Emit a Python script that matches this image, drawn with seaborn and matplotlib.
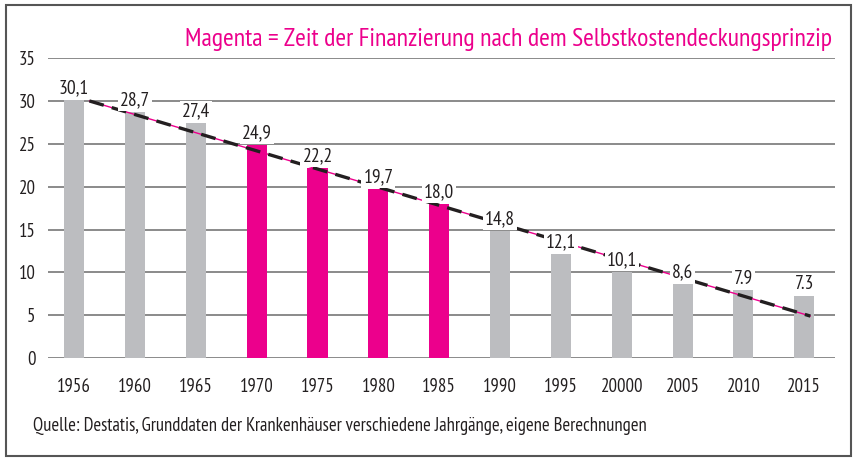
import matplotlib
matplotlib.use("Agg")
import matplotlib.pyplot as plt
from matplotlib.patches import Rectangle
import seaborn as sns
import numpy as np

years = ["1956", "1960", "1965", "1970", "1975", "1980", "1985",
         "1990", "1995", "20000", "2005", "2010", "2015"]
values = [30.1, 28.7, 27.4, 24.9, 22.2, 19.7, 18.0, 14.8, 12.1, 10.1, 8.6, 7.9, 7.3]
value_labels = ["30,1", "28,7", "27,4", "24,9", "22,2", "19,7", "18,0",
                "14,8", "12,1", "10,1", "8,6", "7.9", "7.3"]
selbstkosten = [False, False, False, True, True, True, True,
                False, False, False, False, False, False]

GRAY = "#bcbdc0"
MAGENTA = "#ec008c"
TEXT = "#231f20"

sns.set_theme(style="white")
plt.rcParams["font.family"] = ["PT Sans Narrow", "Open Sans Condensed", "DejaVu Sans"]

fig = plt.figure(figsize=(8.57, 4.58), dpi=100)
ax = fig.add_axes([0.056, 0.218, 0.918, 0.655])

colors = [MAGENTA if s else GRAY for s in selbstkosten]
sns.barplot(x=years, y=values, hue=years, palette=colors, width=0.33,
            legend=False, saturation=1, linewidth=0, ax=ax, zorder=2)

# linear trend over the series
idx = np.arange(len(values))
k, d = np.polyfit(idx, values, 1)
tx = np.array([0.25, 12.1])
ax.plot(tx, k * tx + d, color=MAGENTA, lw=1.0, zorder=2.5)
ax.plot(tx, k * tx + d, color=TEXT, lw=2.4, ls=(0, (4.5, 2.5)), zorder=2.6)

for i, (v, lab) in enumerate(zip(values, value_labels)):
    ax.annotate(lab, (i, v), xytext=(0, 2), textcoords="offset points",
                ha="center", va="bottom", fontsize=14, color=TEXT, zorder=5,
                bbox=dict(boxstyle="square,pad=0.1", fc="white", ec="none"))

ax.set_ylim(0, 35)
ax.set_xlim(-0.43, 12.5)
ax.set_yticks(range(0, 36, 5))
ax.yaxis.grid(True, color="#8a8a8a", lw=1.4, zorder=0)
ax.set_axisbelow(True)
for s in ax.spines.values():
    s.set_visible(False)
ax.tick_params(axis="both", length=0, labelsize=13.5, colors=TEXT)
ax.tick_params(axis="x", pad=14)
ax.tick_params(axis="y", pad=9)
ax.set_xlabel("")
ax.set_ylabel("")

fig.text(0.971, 0.9, "Magenta = Zeit der Finanzierung nach dem Selbstkostendeckungsprinzip",
         ha="right", va="baseline", fontsize=18.6, color=MAGENTA)
fig.text(0.038, 0.07, "Quelle: Destatis, Grunddaten der Krankenhäuser verschiedene Jahrgänge, eigene Berechnungen",
         ha="left", va="center", fontsize=13.4, color=TEXT)

fig.patches.append(Rectangle((0.007, 0.005), 0.986, 0.984, transform=fig.transFigure,
                             fill=False, ec="#555555", lw=1.5))

fig.savefig("out.png", dpi=100)
